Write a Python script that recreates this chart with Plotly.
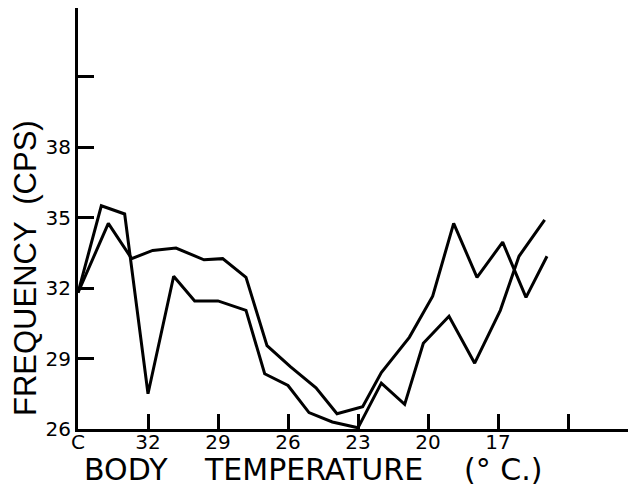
import plotly.graph_objects as go

# Body temperature (°C) positions on the reversed x axis
temp_a = [35.0, 34.0, 33.0, 32.0, 30.9, 30.0, 29.0, 27.8, 27.0, 26.0, 25.1, 24.1, 23.0, 22.0, 21.0, 20.2, 19.1, 18.0, 16.9, 16.1, 15.0]
freq_a = [31.8, 35.5, 35.15, 27.5, 32.5, 31.45, 31.45, 31.05, 28.35, 27.85, 26.7, 26.3, 26.05, 27.95, 27.05, 29.65, 30.8, 28.8, 31.05, 33.35, 34.9]

temp_b = [35.0, 33.7, 32.7, 31.8, 30.8, 29.6, 28.8, 27.8, 26.9, 25.9, 24.8, 23.9, 22.8, 22.0, 20.8, 19.8, 18.9, 17.9, 16.8, 15.8, 14.9]
freq_b = [31.8, 34.75, 33.25, 33.6, 33.7, 33.2, 33.25, 32.45, 29.55, 28.65, 27.75, 26.65, 26.95, 28.4, 29.9, 31.65, 34.75, 32.45, 33.95, 31.6, 33.35]

x_tickvals = [35, 32, 29, 26, 23, 20, 17, 14]
x_ticktext = ["C", "32", "29", "26", "23", "20", "17", ""]
y_tickvals = [26, 29, 32, 35, 38, 41]
y_ticktext = ["26", "29", "32", "35", "38", ""]

x_title_words = ["BODY", "TEMPERATURE", "(° C.)"]
y_title = "FREQUENCY  (CPS)"

fig = go.Figure()
for t, f in [(temp_a, freq_a), (temp_b, freq_b)]:
    fig.add_trace(go.Scatter(x=t, y=f, mode="lines",
                             line=dict(color="black", width=3),
                             showlegend=False, hoverinfo="skip"))

font_family = "DejaVu Sans, Liberation Sans, sans-serif"
y_title_family = "Liberation Sans, Arial, sans-serif"

# page is offset by 8 px body margin: figure is 628x481
W, H = 628, 481
L, B, T = 70, 60, 0
plot_w = W - L
plot_h = H - B - T

fig.update_layout(
    width=W, height=H,
    margin=dict(l=L, r=0, t=T, b=B, autoexpand=False),
    paper_bgcolor="white", plot_bgcolor="white",
    font=dict(family=font_family, color="black"),
    xaxis=dict(range=[35, 35 - plot_w * 3 / 70], tickvals=x_tickvals, ticktext=x_ticktext,
               ticks="inside", ticklen=15, tickwidth=3, tickcolor="black",
               showline=True, linecolor="black", linewidth=3,
               showgrid=False, zeroline=False, automargin=False,
               tickfont=dict(size=20, family=font_family), ticklabelstandoff=-7),
    yaxis=dict(range=[26, 26 + plot_h / 23.5], tickvals=y_tickvals, ticktext=y_ticktext,
               ticks="inside", ticklen=16, tickwidth=3, tickcolor="black",
               showline=True, linecolor="black", linewidth=3,
               showgrid=False, zeroline=False, automargin=False,
               tickfont=dict(size=20, family=font_family)),
)


def px(page_x):
    return (page_x - 78) / plot_w


def py(page_y):
    return (429 - page_y) / plot_h


for word, cx in zip(x_title_words, [126, 313, 503]):
    fig.add_annotation(text=word, xref="paper", yref="paper",
                       x=px(cx), y=py(469), xanchor="center", yanchor="middle",
                       showarrow=False, font=dict(size=30, family=font_family))

fig.add_annotation(text=y_title, xref="paper", yref="paper",
                   x=px(25), y=py(268), xanchor="center", yanchor="middle",
                   showarrow=False, textangle=-90,
                   font=dict(size=31, family=y_title_family))

fig.write_html("out.html")
